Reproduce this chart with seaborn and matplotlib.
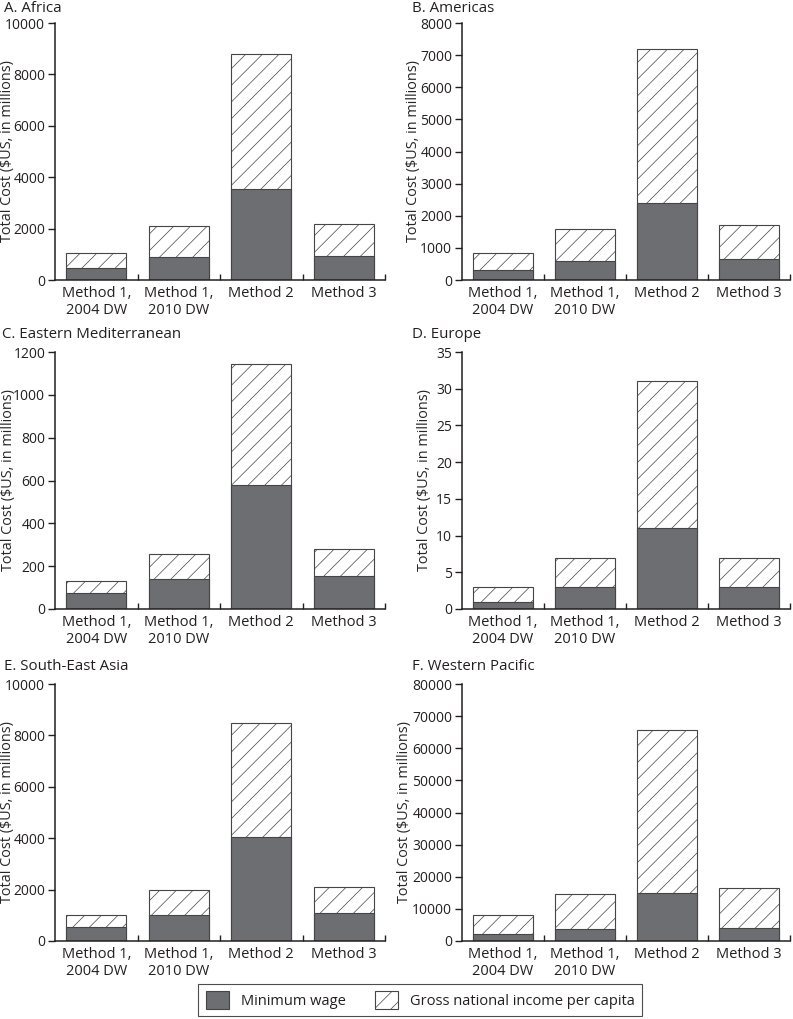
import numpy as np
import pandas as pd
import matplotlib
matplotlib.use("Agg")
import matplotlib.pyplot as plt
import seaborn as sns
from matplotlib.patches import Patch

# data (US$ millions)
methods = ["Method 1,\n2004 DW", "Method 1,\n2010 DW", "Method 2", "Method 3"]
regions = ["A. Africa", "B. Americas", "C. Eastern Mediterranean",
           "D. Europe", "E. South-East Asia", "F. Western Pacific"]

# total height of each stacked bar (= minimum wage + GNI part)
africa_total = [1050, 2120, 8790, 2170]
africa_minwage = [455, 885, 3550, 935]
americas_total = [825, 1585, 7180, 1710]
americas_minwage = [300, 585, 2395, 645]
emed_total = [133, 258, 1143, 278]
emed_minwage = [73, 139, 578, 156]
europe_total = [3, 7, 31, 7]
europe_minwage = [1, 3, 11, 3]
sea_total = [1020, 1985, 8490, 2090]
sea_minwage = [560, 995, 4040, 1095]
wpac_total = [8000, 14700, 65600, 16500]
wpac_minwage = [2050, 3650, 14900, 4150]

totals = [africa_total, americas_total, emed_total, europe_total, sea_total, wpac_total]
minwages = [africa_minwage, americas_minwage, emed_minwage, europe_minwage, sea_minwage, wpac_minwage]
y_max = [10000, 8000, 1200, 35, 10000, 80000]
y_step = [2000, 1000, 200, 5, 2000, 10000]

DARK = "#6d6e71"
EDGE = "#454545"
INK = "#231f20"

sns.set_style("ticks")
plt.rcParams["font.family"] = ["Open Sans", "DejaVu Sans"]
plt.rcParams["hatch.linewidth"] = 0.5
plt.rcParams["text.color"] = INK
plt.rcParams["xtick.color"] = INK
plt.rcParams["ytick.color"] = INK

W, H = 793, 1019
fig = plt.figure(figsize=(W / 100, H / 100), dpi=100)

# axes boxes in pixels: left, top, right, bottom
boxes = [(55, 23, 385, 280), (462, 23, 790, 280),
         (55, 352, 385, 609), (462, 352, 790, 609),
         (55, 684, 385, 941), (462, 684, 790, 941)]
title_x = [4, 412, 2, 412, 4, 412]
title_y = [8, 8, 334, 334, 666, 666]
ylabel_x = [-0.122, -0.125, -0.118, -0.09, -0.122, -0.152]

for i in range(6):
    l, t, r, b = boxes[i]
    ax = fig.add_axes([l / W, 1 - b / H, (r - l) / W, (b - t) / H])
    df = pd.DataFrame({"method": methods, "total": totals[i], "minwage": minwages[i]})
    sns.barplot(data=df, x="method", y="total", ax=ax, color="white", saturation=1,
                edgecolor=EDGE, linewidth=0.8, hatch="//", width=0.73)
    sns.barplot(data=df, x="method", y="minwage", ax=ax, color=DARK, saturation=1,
                edgecolor=EDGE, linewidth=0.8, width=0.73)

    ax.set_xlim(-0.5, 3.5)
    ax.set_ylim(0, y_max[i])
    ax.set_yticks(np.arange(0, y_max[i] + 1, y_step[i]))
    ax.set_xticks(range(4))
    ax.set_xticklabels(methods, fontsize=10.5, linespacing=1.25)
    ax.set_xticks([0.5, 1.5, 2.5, 3.5], minor=True)
    ax.tick_params(axis="x", which="major", length=0, pad=4)
    ax.tick_params(axis="x", which="minor", direction="in", length=4.5, width=1)
    ax.tick_params(axis="y", direction="out", length=5, width=1, labelsize=10, pad=2)
    ax.set_xlabel("")
    ax.set_ylabel("Total Cost ($US, in millions)", fontsize=10.4)
    ax.yaxis.set_label_coords(ylabel_x[i], 0.5)
    sns.despine(ax=ax)
    for s in ["left", "bottom"]:
        ax.spines[s].set_linewidth(1.1)
        ax.spines[s].set_color(INK)

    fig.text(title_x[i] / W, 1 - title_y[i] / H, regions[i], fontsize=10.8,
             ha="left", va="center")

handles = [Patch(facecolor=DARK, edgecolor=EDGE, linewidth=0.8),
           Patch(facecolor="white", edgecolor=EDGE, linewidth=0.8, hatch="//")]
leg = fig.legend(handles, ["Minimum wage", "Gross national income per capita"],
                 loc="center", bbox_to_anchor=(420 / W, 1 - 1000 / H), ncol=2,
                 fontsize=10.5, frameon=True, fancybox=False, edgecolor=INK,
                 handlelength=1.6, handleheight=1.5, columnspacing=2.0,
                 borderpad=0.5, handletextpad=0.8)
leg.get_frame().set_linewidth(0.8)

fig.savefig("out.png", dpi=100)
